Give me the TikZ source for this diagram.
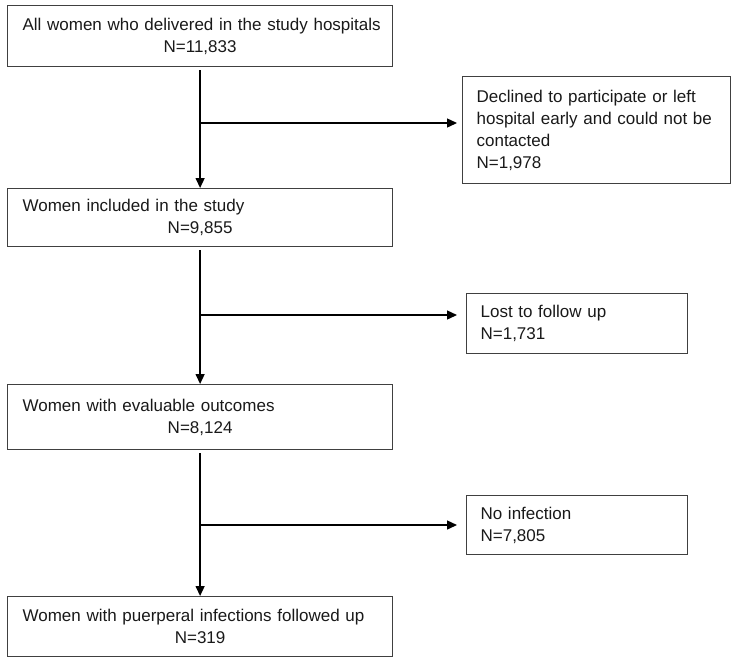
\documentclass[tikz,border=0pt]{standalone}
\usepackage{fontspec}
\setmainfont{Liberation Sans}
\usetikzlibrary{arrows.meta, positioning}

\newlength\mainw
\setlength\mainw{355pt}

\begin{document}
\begin{tikzpicture}[
      x=1pt, y=-1pt,
      mainbox/.style = {draw=black!75, line width=1.2pt, anchor=north west,
                        text width=\mainw, inner xsep=15pt, align=left,
                        text=black!90, font=\fontsize{17pt}{22pt}\selectfont},
      sidebox/.style = {draw=black!75, line width=1.2pt, anchor=north west,
                        text width=#1, inner xsep=14pt, align=left,
                        text=black!90, font=\fontsize{17pt}{22pt}\selectfont},
      arr/.style     = {-{Triangle[length=10pt, width=9pt]}, line width=1.4pt},
    ]
    \useasboundingbox (0,0) rectangle (735,662);

    \node[mainbox, minimum height=61pt] (all) at (7,5)
      {\makebox[\mainw][l]{All women who delivered in the study hospitals}\\\makebox[\mainw]{N=11,833}};
    \node[mainbox, minimum height=58pt] (incl) at (7,188)
      {Women included in the study\\\makebox[\mainw]{N=9,855}};
    \node[mainbox, minimum height=65pt] (eval) at (7,384)
      {Women with evaluable outcomes\\\makebox[\mainw]{N=8,124}};
    \node[mainbox, minimum height=60pt] (puerp) at (7,596)
      {Women with puerperal infections followed up\\\makebox[\mainw]{N=319}};

    \node[sidebox=240pt, minimum height=107pt] (decl) at (462,76)
      {Declined to participate or left\\hospital early and could not be\\contacted\\N=1,978};
    \node[sidebox=193pt, minimum height=60pt] (lost) at (466,293)
      {Lost to follow up\\N=1,731};
    \node[sidebox=193pt, minimum height=59pt] (noinf) at (466,495)
      {No infection\\N=7,805};

    % main flow
    \draw[arr, shorten <=3pt] (all) -- (incl);
    \draw[arr, shorten <=3pt] (incl) -- (eval);
    \draw[arr, shorten <=3pt] (eval) -- (puerp);

    % exclusions to the right
    \coordinate (j1) at (all.south |- 0,123);
    \coordinate (j2) at (incl.south |- 0,315);
    \coordinate (j3) at (eval.south |- 0,525);
    \draw[arr, shorten >=5pt] (j1) -- (decl.west |- j1);
    \draw[arr, shorten >=9pt] (j2) -- (lost.west |- j2);
    \draw[arr, shorten >=9pt] (j3) -- (noinf.west |- j3);

  \end{tikzpicture}
\end{document}
